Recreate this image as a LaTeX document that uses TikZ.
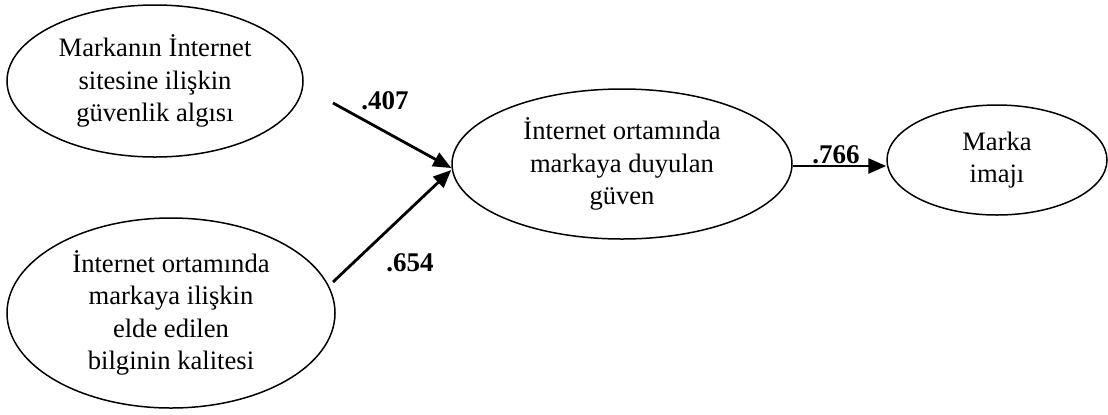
\documentclass[tikz,border=0pt]{standalone}
\usepackage{fontspec}
\setmainfont{Liberation Serif}
\usetikzlibrary{shapes.geometric,arrows.meta}
\begin{document}
\begin{tikzpicture}[x=0.5pt,y=-0.5pt,
    construct/.style={draw,ellipse,line width=0.75pt,inner sep=1pt,align=center,
      font=\fontsize{13.3}{16.2}\selectfont},
    pathline/.style={line width=1.4pt,-{Triangle[length=9pt,width=7.5pt]}},
    coef/.style={font=\fontsize{13.5}{15}\selectfont\bfseries}]
  \useasboundingbox (0,0) rectangle (1108,414);
  \node[construct,minimum width=148pt,minimum height=76pt] (guvenlik) at (155,81)
    {Markanın İnternet\\sitesine ilişkin\\güvenlik algısı};
  \node[construct,minimum width=164pt,minimum height=95pt] (bilgi) at (171,313)
    {İnternet ortamında\\markaya ilişkin\\elde edilen\\bilginin kalitesi};
  \node[construct,minimum width=170pt,minimum height=75pt] (guven) at (622,164)
    {İnternet ortamında\\markaya duyulan\\güven};
  \node[construct,minimum width=110pt,minimum height=55pt] (imaj) at (997,160)
    {Marka\\imajı};
  \coordinate (s1) at (333,103);
  \coordinate (s2) at (333,282);
  \begin{scope}[pathline]
    \draw (s1) -- ([yshift=-2pt]guven.west);
    \draw (s2) -- ([yshift=-3pt]guven.west);
    \draw ([yshift=-1pt]guven.east) -- ([yshift=-1pt]guven.east -| imaj.west);
  \end{scope}
  \node[coef] (c407) at (385,101) {.407};
  \node[coef] (c654) at (410,263) {.654};
  \node[coef] (c766) at (836,155) {.766};
\end{tikzpicture}
\end{document}
